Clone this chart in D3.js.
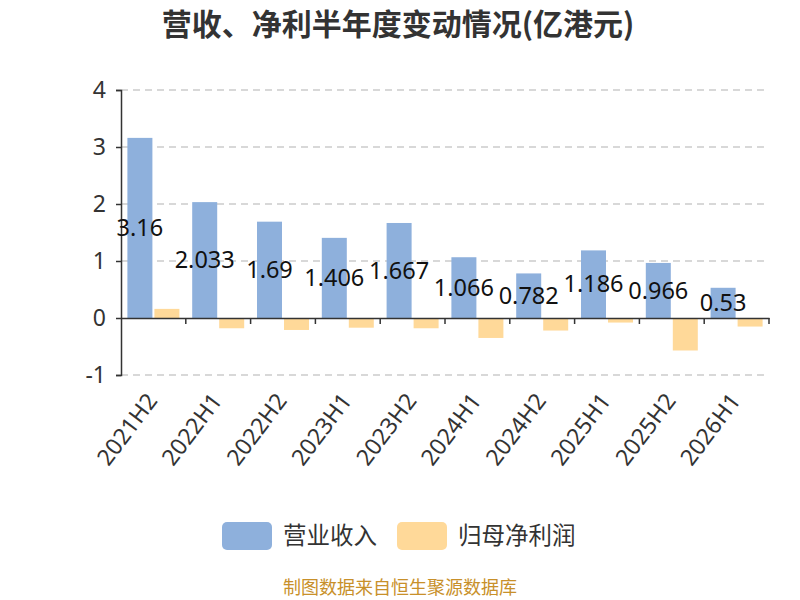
<!DOCTYPE html>
<html>
<head>
<meta charset="utf-8">
<script src="https://cdn.jsdelivr.net/npm/d3@7"></script>
<style>
  body { margin: 0; background: #fff; }
  text { font-family: "Noto Sans", "Noto Sans CJK SC", sans-serif; }
  .cjk { font-family: "Noto Sans CJK SC", sans-serif; }
</style>
</head>
<body>
<div id="chart"></div>
<script>
const periods = ['2021H2', '2022H1', '2022H2', '2023H1', '2023H2', '2024H1', '2024H2', '2025H1', '2025H2', '2026H1']
const revenue = [3.16, 2.033, 1.69, 1.406, 1.667, 1.066, 0.782, 1.186, 0.966, 0.53]
const netProfit = [0.16, -0.18, -0.21, -0.17, -0.18, -0.35, -0.22, -0.08, -0.57, -0.15]
const seriesNames = ['营业收入', '归母净利润']
const yTicks = [-1, 0, 1, 2, 3, 4]

const width = 800, height = 600
const margin = {top: 90, right: 31, bottom: 225, left: 121}
const colors = ['#8eb0dc', '#ffd999']

const svg = d3.select('#chart').append('svg')
  .attr('width', width)
  .attr('height', height)

const x0 = d3.scaleBand()
  .domain(periods)
  .range([margin.left, width - margin.right])
const x1 = d3.scaleBand()
  .domain(seriesNames)
  .range([0, x0.bandwidth()])
  .paddingInner(0.074)
  .paddingOuter(0.237)
const y = d3.scaleLinear()
  .domain([-1, 4])
  .range([height - margin.bottom, margin.top])

// grid
svg.append('g')
  .selectAll('line')
  .data(yTicks.filter(d => d !== 0))
  .enter().append('line')
  .attr('x1', margin.left)
  .attr('x2', width - margin.right)
  .attr('y1', d => y(d))
  .attr('y2', d => y(d))
  .attr('stroke', '#cccccc')
  .attr('stroke-width', 1.5)
  .attr('stroke-dasharray', '7,5')

// y axis
const yAxis = svg.append('g')
  .attr('transform', `translate(${margin.left},0)`)
  .call(d3.axisLeft(y).tickValues(yTicks).tickSize(5).tickPadding(10).tickFormat(d => String(d)))
yAxis.select('.domain').attr('stroke', '#333').attr('stroke-width', 1.5)
yAxis.selectAll('.tick line').attr('stroke', '#333').attr('stroke-width', 1.5)
yAxis.selectAll('.tick text')
  .style('font-size', '23px')
  .style('font-family', '"Noto Sans", sans-serif')
  .attr('fill', '#333')

const data = periods.map((p, i) => ({period: p, values: [revenue[i], netProfit[i]]}))

// bars
const groups = svg.append('g')
  .selectAll('g')
  .data(data)
  .enter().append('g')
  .attr('transform', d => `translate(${x0(d.period)},0)`)
groups.selectAll('rect')
  .data(d => d.values.map((v, j) => ({name: seriesNames[j], value: v, j: j})))
  .enter().append('rect')
  .attr('x', d => x1(d.name))
  .attr('width', x1.bandwidth())
  .attr('y', d => y(Math.max(0, d.value)))
  .attr('height', d => Math.abs(y(d.value) - y(0)))
  .attr('fill', d => colors[d.j])

// x axis at zero
const xAxis = svg.append('g')
  .attr('transform', `translate(0,${y(0)})`)
  .call(d3.axisBottom(x0).tickSize(0).tickFormat(''))
xAxis.select('.domain').attr('stroke', '#333').attr('stroke-width', 1.5)
svg.append('g')
  .selectAll('line')
  .data(periods.map((p, i) => i + 1))
  .enter().append('line')
  .attr('x1', i => margin.left + i * x0.step())
  .attr('x2', i => margin.left + i * x0.step())
  .attr('y1', y(0))
  .attr('y2', y(0) + 6)
  .attr('stroke', '#333')
  .attr('stroke-width', 1.5)

// x labels
svg.append('g')
  .selectAll('text')
  .data(periods)
  .enter().append('text')
  .text(d => d)
  .attr('text-anchor', 'end')
  .attr('fill', '#333')
  .style('font-size', '23px')
  .attr('transform', d => `translate(${x0(d) + x0.bandwidth() / 2 + 5},${y(-1) + 26}) rotate(-53)`)

// value labels
svg.append('g')
  .selectAll('text')
  .data(data)
  .enter().append('text')
  .text(d => d.values[0])
  .attr('x', d => x0(d.period) + x1(seriesNames[0]) + x1.bandwidth() / 2)
  .attr('y', d => (y(d.values[0]) + y(0)) / 2)
  .attr('dy', '0.35em')
  .attr('text-anchor', 'middle')
  .attr('fill', '#111')
  .style('font-size', '23.5px')

// title
svg.append('text')
  .attr('class', 'cjk')
  .text('营收、净利半年度变动情况(亿港元)')
  .attr('x', 398)
  .attr('y', 35)
  .attr('text-anchor', 'middle')
  .attr('fill', '#333')
  .style('font-size', '30px')
  .style('font-weight', 'bold')

// legend
const legendX = [222, 397]
const legend = svg.append('g')
  .selectAll('g')
  .data(seriesNames)
  .enter().append('g')
  .attr('transform', (d, i) => `translate(${legendX[i]},522)`)
legend.append('rect')
  .attr('width', 50)
  .attr('height', 28)
  .attr('rx', 5)
  .attr('fill', (d, i) => colors[i])
legend.append('text')
  .attr('class', 'cjk')
  .text(d => d)
  .attr('x', 61)
  .attr('y', 14)
  .attr('dy', '0.35em')
  .attr('fill', '#333')
  .style('font-size', '23.5px')

// source
svg.append('text')
  .attr('class', 'cjk')
  .text('制图数据来自恒生聚源数据库')
  .attr('x', 400)
  .attr('y', 588)
  .attr('dy', '0.35em')
  .attr('text-anchor', 'middle')
  .attr('fill', '#c8902a')
  .style('font-size', '18px')
</script>
</body>
</html>
